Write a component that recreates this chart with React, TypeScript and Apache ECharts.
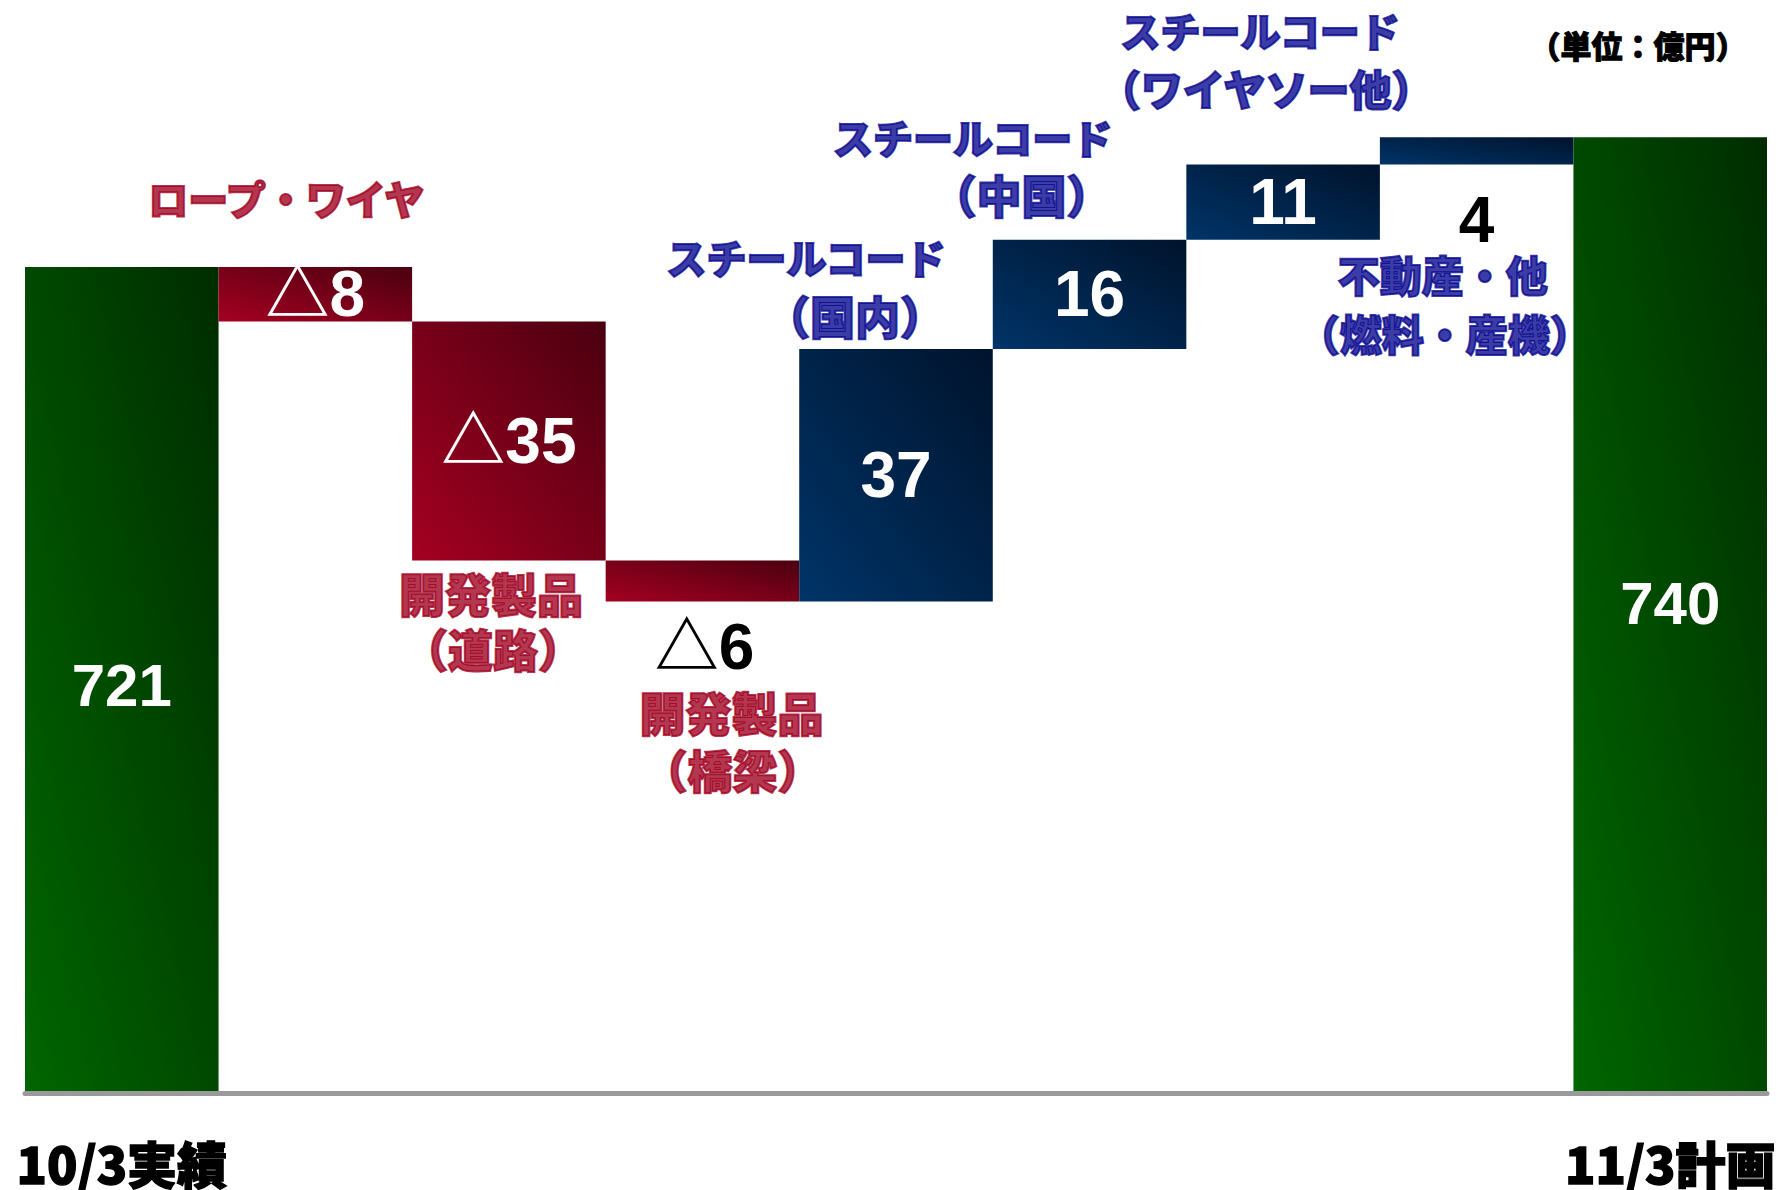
import React, { useEffect, useRef } from 'react';
import * as echarts from 'echarts';

// ---------- data ----------
const categories = [
  '10/3実績',
  'ロープ・ワイヤ',
  '開発製品（道路）',
  '開発製品（橋梁）',
  'スチールコード（国内）',
  'スチールコード（中国）',
  'スチールコード（ワイヤソー他）',
  '不動産・他（燃料・産機）',
  '11/3計画',
];
const amounts = [721, -8, -35, -6, 37, 16, 11, 4, 740];
const isTotal = [true, false, false, false, false, false, false, false, true];
const valueTexts = ['721', '△8', '△35', '△6', '37', '16', '11', '4', '740'];
const noteLines: string[][] = [
  [],
  ['ロープ・ワイヤ'],
  ['開発製品', '（道路）'],
  ['開発製品', '（橋梁）'],
  ['スチールコード', '（国内）'],
  ['スチールコード', '（中国）'],
  ['スチールコード', '（ワイヤソー他）'],
  ['不動産・他', '（燃料・産機）'],
  [],
];
const unitText = '（単位：億円）';
const axisMin = 600;
const axisMax = 750;

// ---------- styles / layout ----------
const CJK = "'Noto Sans CJK JP', sans-serif";
const NARROW = "'Liberation Sans Narrow', 'Liberation Sans', Arial, 'Noto Sans CJK JP', sans-serif";
const WIDE = "'Liberation Sans', Arial, 'Noto Sans CJK JP', sans-serif";
const RED_TEXT = '#A0001F';
const BLUE_TEXT = '#06068E';

// per category: anchor at bar top or bottom, per line [dx, dy, fontSize]
const noteLayout: Record<number, { anchor: 'top' | 'bottom'; lines: number[][] }> = {
  1: { anchor: 'top', lines: [[-29, -69, 40]] },
  2: { anchor: 'bottom', lines: [[-18, 31, 46], [-16, 88, 45]] },
  3: { anchor: 'bottom', lines: [[29, 110, 46], [30, 168, 45]] },
  4: { anchor: 'top', lines: [[-90, -92, 40], [-41, -33, 45]] },
  5: { anchor: 'top', lines: [[-117, -103, 40], [-68, -45, 45]] },
  6: { anchor: 'top', lines: [[-23, -135, 40], [-17, -77, 42]] },
  7: { anchor: 'bottom', lines: [[-34, 109, 42], [-32, 168, 42]] },
};
// value label style per category: [dx, dy, font, size, color]
const valueLayout: [number, number, string, number, string][] = [
  [0, 6, WIDE, 60, '#fff'],
  [0, 0, NARROW, 64, '#fff'],
  [0, 0, NARROW, 64, '#fff'],
  [2, 66, NARROW, 64, '#000'],
  [0, 0, NARROW, 64, '#fff'],
  [0, 0, NARROW, 64, '#fff'],
  [0, 0, NARROW, 64, '#fff'],
  [0, 69, NARROW, 64, '#000'],
  [0, -12, WIDE, 60, '#fff'],
];

const grad = (c0: string, c1: string) =>
  new echarts.graphic.LinearGradient(0, 1, 1, 0, [
    { offset: 0, color: c0 },
    { offset: 1, color: c1 },
  ]);

export default function App() {
  const ref = useRef<HTMLDivElement>(null);

  useEffect(() => {
    if (!ref.current) return;
    const chart = echarts.init(ref.current, null, { renderer: 'svg' });

    // waterfall layout from amounts
    const bases: number[] = [];
    const heights: number[] = [];
    let running = 0;
    amounts.forEach((a, i) => {
      if (isTotal[i]) {
        bases.push(0);
        heights.push(a);
        running = a;
      } else if (a < 0) {
        running += a;
        bases.push(running);
        heights.push(-a);
      } else {
        bases.push(running);
        heights.push(a);
        running += a;
      }
    });

    const valueData = amounts.map((a, i) => {
      const color = isTotal[i]
        ? grad('#006600', '#002C00')
        : a < 0
        ? grad('#A50021', '#4A0010')
        : grad('#003468', '#00132C');
      const [dx, dy, font, size, tc] = valueLayout[i];
      return {
        value: heights[i],
        itemStyle: { color },
        label: {
          show: true,
          position: 'inside',
          formatter: valueTexts[i],
          offset: [dx, dy],
          fontFamily: font,
          fontSize: size,
          lineHeight: size - 6,
          fontWeight: 'bold',
          color: tc,
        },
      };
    });

    const noteData: any[] = [];
    noteLines.forEach((lines, i) => {
      const lay = noteLayout[i];
      if (!lay) return;
      const anchorVal = lay.anchor === 'top' ? bases[i] + heights[i] : bases[i];
      lines.forEach((txt, j) => {
        const [dx, dy, fs] = lay.lines[j];
        const c = amounts[i] < 0 ? RED_TEXT : BLUE_TEXT;
        noteData.push({
          value: [i, anchorVal],
          label: {
            formatter: txt,
            offset: [dx, dy],
            fontSize: fs,
            lineHeight: fs,
            color: c,
            textBorderColor: c,
            textBorderWidth: 2,
          },
        });
      });
    });

    chart.setOption({
      animation: false,
      backgroundColor: '#ffffff',
      grid: { left: 25, right: 11, top: 69, bottom: 97, outerBoundsMode: 'none' },
      xAxis: {
        type: 'category',
        data: categories,
        z: 10,
        axisLine: { show: true, lineStyle: { color: '#9A9A9A', width: 5 } },
        axisTick: { show: false },
        axisLabel: {
          interval: 0,
          margin: 47,
          lineHeight: 44,
          fontSize: 50,
          fontWeight: 900,
          fontFamily: CJK,
          color: '#000',
          textBorderColor: '#000',
          textBorderWidth: 1.4,
          formatter: (v: string, idx: number) => (isTotal[idx] ? v : ''),
        },
        splitLine: { show: false },
      },
      yAxis: {
        type: 'value',
        min: axisMin,
        max: axisMax,
        show: false,
        splitLine: { show: false },
      },
      series: [
        {
          name: 'base',
          type: 'bar',
          stack: 'wf',
          barCategoryGap: '0%',
          silent: true,
          itemStyle: { color: 'rgba(0,0,0,0)' },
          emphasis: { disabled: true },
          data: bases,
        },
        {
          name: 'value',
          type: 'bar',
          stack: 'wf',
          barCategoryGap: '0%',
          silent: true,
          emphasis: { disabled: true },
          data: valueData,
        },
        {
          name: 'notes',
          type: 'scatter',
          symbolSize: 1,
          silent: true,
          clip: false,
          itemStyle: { color: 'rgba(0,0,0,0)' },
          emphasis: { disabled: true },
          label: {
            show: true,
            position: 'inside',
            align: 'center',
            verticalAlign: 'middle',
            fontFamily: CJK,
            fontWeight: 900,
          },
          data: noteData,
          z: 5,
        },
      ],
      graphic: [
        {
          type: 'text',
          x: 1638,
          y: 44,
          style: {
            text: unitText,
            fill: '#000',
            stroke: '#000',
            lineWidth: 1,
            fontSize: 31,
            fontWeight: 900,
            fontFamily: CJK,
            align: 'center',
            verticalAlign: 'middle',
            textAlign: 'center',
            textVerticalAlign: 'middle',
          },
        },
      ],
    });

    return () => chart.dispose();
  }, []);

  return (
    <div
      ref={ref}
      style={{ position: 'absolute', left: 0, top: 0, width: 1778, height: 1190, background: '#fff' }}
    />
  );
}
